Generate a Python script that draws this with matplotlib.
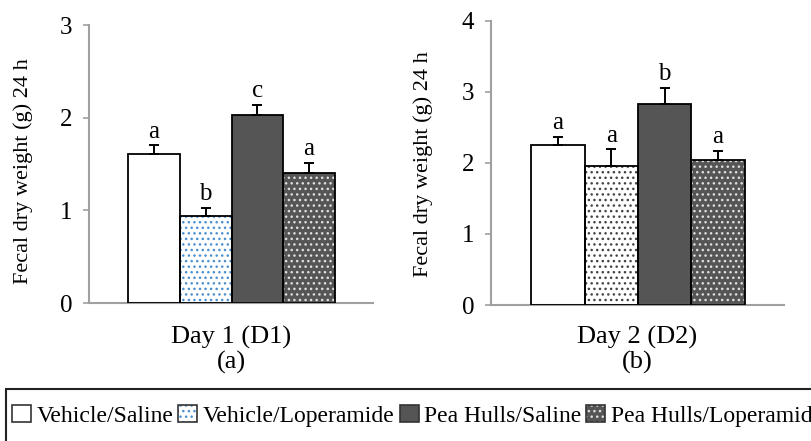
import matplotlib
matplotlib.use("Agg")
import matplotlib.pyplot as plt
from matplotlib.patches import Patch, Rectangle
from matplotlib.legend_handler import HandlerTuple

plt.rcParams['font.family'] = ['Liberation Serif', 'DejaVu Serif']
plt.rcParams['hatch.linewidth'] = 1.0

groups = ["Vehicle/Saline", "Vehicle/Loperamide", "Pea Hulls/Saline", "Pea Hulls/Loperamide"]
d1_means = [1.61, 0.94, 2.03, 1.40]
d1_err = [0.09, 0.09, 0.11, 0.11]
d1_letters = ["a", "b", "c", "a"]
d2_means = [2.25, 1.96, 2.83, 2.04]
d2_err = [0.11, 0.23, 0.22, 0.13]
d2_letters = ["a", "a", "b", "a"]
d1_ticks = [0, 1, 2, 3]
d2_ticks = [0, 1, 2, 3, 4]
ylabel = "Fecal dry weight (g) 24 h"

DARK = '#555555'
face_d1 = ['white', 'white', DARK, DARK]
dot_d1 = [None, '#4a8fd0', None, '#e0e0e0']
face_d2 = ['white', 'white', DARK, DARK]
dot_d2 = [None, '#444444', None, '#e0e0e0']
HATCH = '...'

fig = plt.figure(figsize=(8.11, 4.41), dpi=100)
axL = fig.add_axes([89/811, 1-303/441, (373-89)/811, (303-25)/441])
axR = fig.add_axes([491/811, 1-305/441, (784-491)/811, (305-20.7)/441])


def draw(ax, means, errs, letters, faces, dots, ticks, ylab_y):
    x = list(range(len(means)))
    for i in x:
        ax.bar(i, means[i], width=1.0, color=faces[i], linewidth=0, zorder=2)
        if dots[i] is not None:
            ax.bar(i, means[i], width=1.0, facecolor='none', edgecolor=dots[i],
                   linewidth=0, hatch=HATCH, zorder=3)
        ax.bar(i, means[i], width=1.0, fill=False, edgecolor='black',
               linewidth=1.3, zorder=4)
    ax.errorbar(x, means, yerr=[[0]*len(means), errs], fmt='none',
                ecolor='black', elinewidth=1.4, capsize=3.5, capthick=1.4, zorder=5)
    for i in x:
        ax.annotate(letters[i], (i, means[i] + errs[i]), xytext=(0, 2),
                    textcoords='offset points', ha='center', va='bottom', fontsize=18)
    ax.set_xlim(-1.26, 4.24)
    ax.set_ylim(0, ticks[-1])
    ax.set_yticks(ticks)
    ax.set_xticks([])
    for s in ['top', 'right']:
        ax.spines[s].set_visible(False)
    for s in ['left', 'bottom']:
        ax.spines[s].set_color('#a0a0a0')
        ax.spines[s].set_linewidth(1.5)
    ax.tick_params(axis='y', length=4, width=1.2, color='#a0a0a0', pad=8, labelsize=18)
    ax.set_ylabel(ylabel, fontsize=16)
    ax.yaxis.set_label_coords(-0.197, ylab_y)


draw(axL, d1_means, d1_err, d1_letters, face_d1, dot_d1, d1_ticks, 0.475)
draw(axR, d2_means, d2_err, d2_letters, face_d2, dot_d2, d2_ticks, 0.496)

fig.text((89+373)/2/811, 1-344/441, "Day 1 (D1)", ha='center', va='baseline', fontsize=19)
fig.text((89+373)/2/811, 1-369/441, "(a)", ha='center', va='baseline', fontsize=19)
fig.text((491+784)/2/811, 1-344/441, "Day 2 (D2)", ha='center', va='baseline', fontsize=19)
fig.text((491+784)/2/811, 1-369/441, "(b)", ha='center', va='baseline', fontsize=19)

# legend box (extends past figure edges)
fig.add_artist(Rectangle((6/811, -0.1), 1.2, 0.1 + (1-389/441), transform=fig.transFigure,
                         fill=False, edgecolor='#222222', linewidth=1.5, clip_on=False))

handles = []
for i in range(4):
    parts = [Patch(facecolor=face_d1[i], edgecolor='none', linewidth=0)]
    if dot_d1[i] is not None:
        parts.append(Patch(facecolor='none', edgecolor=dot_d1[i], linewidth=0, hatch=HATCH))
    parts.append(Patch(facecolor='none', edgecolor='#333333', linewidth=1.2))
    handles.append(tuple(parts))

fig.legend(handles, groups, loc='center left', bbox_to_anchor=(12/811, 1-416/441),
           ncol=4, frameon=False, fontsize=17, handlelength=0.8, handleheight=0.75,
           handletextpad=0.25, columnspacing=0.2, borderpad=0, borderaxespad=0,
           handler_map={tuple: HandlerTuple(ndivide=1, pad=0)})

fig.savefig("out.png", dpi=100)
